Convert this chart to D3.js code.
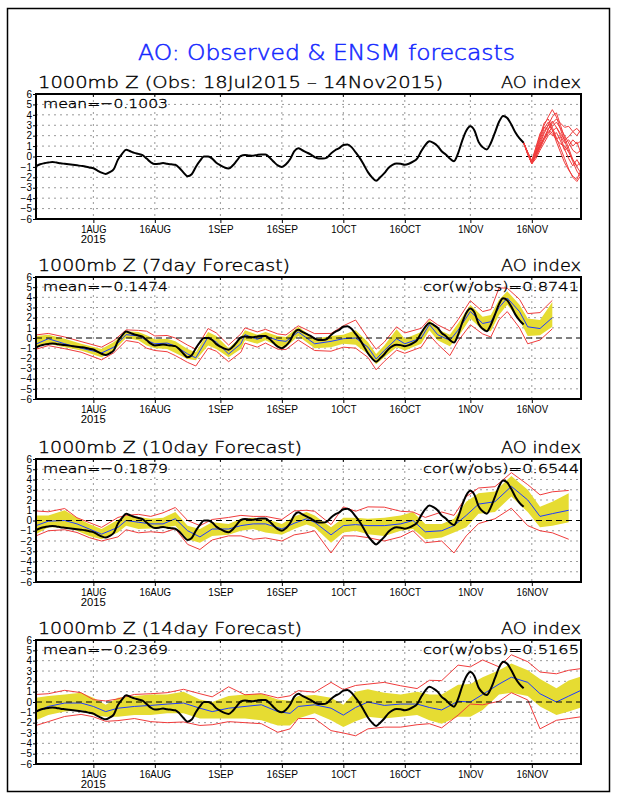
<!DOCTYPE html>
<html><head><meta charset="utf-8">
<script src="https://cdn.jsdelivr.net/npm/d3@7"></script>
<style>body{margin:0;background:#fff}
text{font-family:'Liberation Sans',Arial,sans-serif}
.lt{font-family:'DejaVu Sans','Liberation Sans',Arial,sans-serif;font-weight:200;stroke:#000;stroke-width:0.35px}
</style>
</head><body><svg id="c" width="618" height="800"></svg>
<script>
// ---------------- DATA ----------------
const startDate = "2015-07-18";
const endDate = "2015-11-28";
// observed AO, daily from 18Jul2015 to 14Nov2015
const obsValues = [
-0.93,-0.75,-0.65,-0.58,-0.53,-0.58,-0.65,-0.7,-0.75,-0.8,
-0.85,-0.9,-0.95,-1.05,-1.13,-1.35,-1.55,-1.67,-1.5,-1.2,
-0.3,0.25,0.65,0.5,0.35,0.25,0.13,-0.2,-0.55,-0.73,
-0.7,-0.63,-0.7,-0.75,-0.8,-1.1,-1.55,-1.9,-1.7,-1.0,
-0.43,0.0,0.0,-0.2,-0.6,-0.85,-1.05,-1.15,-0.87,-0.4,
0.05,0.15,0.1,0.07,0.15,0.2,0.2,-0.1,-0.5,-0.85,
-1.0,-0.75,-0.27,0.5,0.8,0.6,0.4,0.2,-0.05,-0.2,
-0.2,-0.1,0.3,0.6,0.8,1.1,1.15,0.9,0.4,-0.13,
-0.8,-1.5,-2.0,-2.33,-2.0,-1.6,-1.1,-0.8,-0.67,-0.7,
-0.8,-0.7,-0.5,-0.2,0.5,1.1,1.47,1.3,1.0,0.5,
0.2,-0.2,-0.45,0.3,1.5,2.47,2.9,2.5,1.4,0.9,
0.67,1.3,2.3,3.33,3.9,3.7,3.07,2.3,1.73,1.33];

// ensemble members (top panel), days 119..133 after start
const ensDays = [119,120,121,122,123,124,125,126,127,128,129,130,131,132,133];
const ensMembers = [
[1.33,0.3,-0.6,0.6,1.8,3.0,3.8,4.5,3.8,2.6,1.5,0.5,-0.5,-1.4,-2.0],
[1.33,0.3,-0.7,0.3,1.2,2.2,3.0,3.8,4.2,3.0,1.8,0.8,-0.3,-1.0,-1.6],
[1.33,0.4,-0.5,0.8,2.0,3.2,3.6,2.8,1.8,0.8,-0.2,-1.2,-2.0,-2.4,-1.8],
[1.33,0.3,-0.6,0.2,1.0,1.8,2.6,3.2,3.6,3.2,2.8,2.9,2.4,2.7,2.2],
[1.33,0.2,-0.7,-0.2,0.6,1.3,2.0,2.4,2.8,2.2,1.6,1.9,2.4,2.0,2.6],
[1.33,0.4,-0.4,0.9,2.2,2.8,2.6,2.2,1.6,1.2,1.0,0.4,-0.3,-0.9,-0.5],
[1.33,0.3,-0.6,0.4,1.4,2.4,3.0,2.6,1.4,0.4,-0.6,-1.3,-1.9,-2.2,-1.3],
[1.33,0.3,-0.7,0.0,0.8,1.6,2.2,2.9,3.3,2.7,2.0,1.3,0.6,0.3,0.6],
[1.33,0.2,-0.6,0.2,1.1,1.8,2.6,3.4,2.8,2.0,1.3,1.6,1.0,1.4,0.3],
[1.33,0.4,-0.5,0.5,1.6,2.7,3.3,2.5,1.7,1.9,0.7,-0.2,-0.9,-0.3,-1.0],
[1.33,0.3,-0.6,0.1,0.9,1.7,2.4,2.0,2.3,1.5,0.6,1.0,1.6,1.2,1.5]];

// 7-day forecast
const f7Days   = [0,3,7,11,16,19,22,25,27,29,32,34,37,39,42,44,47,50,51,54,56,59,61,64,68,72,75,78,81,83,85,88,90,94,96,98,101,103,106,109,111,113,115,118,120,123,126];
const f7Mean   = [-0.6,-0.07,-0.57,-1.0,-1.47,-0.9,0.33,0.2,-0.23,-0.57,-0.5,-0.8,-1.57,-1.95,0.1,-0.4,-1.57,-0.57,0.33,-0.13,0.2,-0.23,-0.33,0.6,-0.57,-0.33,-0.07,0.0,-0.9,-2.07,-1.23,-0.07,-0.57,0.0,1.33,0.33,-0.23,0.77,2.6,1.43,1.6,3.0,3.93,2.6,1.1,0.93,2.0];
const f7BandHi = [0.2,0.33,-0.07,-0.57,-1.07,-0.4,0.67,0.6,0.27,-0.13,-0.07,-0.33,-1.07,-1.4,0.6,0.2,-1.0,0.1,0.77,0.33,0.6,0.2,0.1,1.1,-0.07,0.2,0.33,0.77,-0.4,-1.57,-0.73,0.87,-0.07,0.6,1.77,0.87,0.33,1.43,3.27,2.1,2.27,3.77,4.6,3.27,1.93,1.77,3.53];
const f7BandLo = [-0.9,-0.57,-0.9,-1.23,-1.9,-1.23,0.0,-0.23,-0.73,-1.0,-1.07,-1.47,-2.07,-2.2,-0.73,-1.07,-1.9,-1.07,-0.23,-0.57,-0.23,-0.8,-0.9,0.2,-1.0,-0.9,-0.57,-0.67,-1.57,-2.57,-1.9,-0.9,-1.23,-0.57,0.77,-0.23,-0.8,0.1,1.93,0.77,0.67,2.27,3.27,1.77,0.2,0.27,1.1];
const f7RedHi  = [0.3,0.45,0.1,-0.35,-0.9,-0.25,0.8,0.75,0.67,0.2,0.25,0.0,-0.7,-1.1,0.93,0.5,-0.7,0.4,1.0,0.6,0.85,0.4,0.3,1.2,0.43,0.45,1.2,1.77,0.0,-1.1,-0.4,1.1,0.5,0.95,1.87,1.3,0.7,1.8,3.67,2.6,2.8,4.93,4.9,3.8,2.4,2.5,3.7];
const f7RedLo  = [-1.1,-0.75,-1.05,-1.4,-2.15,-1.45,-0.25,-0.45,-1.0,-1.23,-1.35,-1.73,-2.4,-2.75,-1.0,-1.3,-2.33,-1.4,-0.5,-0.9,-0.5,-1.1,-1.13,-0.2,-1.23,-1.3,-0.9,-1.0,-1.9,-3.13,-2.3,-1.2,-1.5,-0.9,0.3,-0.6,-1.73,-0.3,1.3,0.4,0.1,1.8,2.6,1.0,-0.57,-0.2,0.9];

// 10-day forecast
const f10Days   = [0,3,7,10,13,16,20,22,25,28,31,34,37,40,43,47,50,53,56,60,63,66,68,72,75,78,81,85,89,92,95,99,102,105,108,112,116,120,123,126,130];
const f10Mean   = [-0.5,-0.07,0.0,-0.33,-0.83,-1.33,-0.67,0.0,-0.17,-0.33,-0.33,0.17,-1.0,-1.6,-0.83,-0.83,-0.5,-0.33,-0.33,-0.83,-0.27,0.17,-0.17,-1.4,-0.5,-0.4,-0.5,-0.5,-0.33,0.0,-1.1,-1.0,-0.5,0.5,1.6,1.83,3.33,2.0,0.4,0.67,1.0];
const f10BandHi = [0.5,0.5,1.0,0.27,-0.33,-0.83,0.07,0.5,0.33,0.17,0.27,0.83,-0.5,-0.83,-0.17,-0.33,0.17,0.27,0.17,-0.33,0.4,0.83,0.5,-0.67,0.27,0.27,0.17,0.27,0.5,0.83,-0.33,-0.33,0.17,1.83,2.67,2.83,4.33,3.0,1.33,1.83,2.67];
const f10BandLo = [-1.33,-0.67,-0.67,-1.0,-1.5,-1.83,-1.17,-0.5,-0.83,-0.77,-0.73,-0.5,-1.83,-2.17,-1.5,-1.4,-1.0,-0.83,-1.17,-1.4,-0.83,-0.4,-0.67,-2.17,-1.17,-1.0,-1.33,-1.5,-1.0,-0.83,-1.83,-1.67,-1.17,-0.67,0.67,0.83,2.33,0.83,-0.67,-0.5,-0.17];
const f10RedHi  = [0.93,0.85,1.17,0.27,-0.2,-0.67,0.3,0.5,0.6,0.4,0.75,1.27,0.0,-0.5,0.1,0.3,0.5,0.4,0.4,0.1,0.93,1.0,0.9,-0.4,1.33,0.9,1.33,1.3,0.9,0.83,0.3,0.83,0.5,2.33,3.17,3.3,4.67,3.5,2.5,2.8,2.93];
const f10RedLo  = [-1.5,-1.0,-0.9,-1.17,-1.67,-2.0,-1.6,-0.9,-1.2,-1.1,-1.2,-0.8,-2.33,-2.83,-1.9,-1.5,-1.5,-1.83,-1.7,-2.0,-1.4,-1.2,-1.0,-3.17,-1.5,-1.5,-1.67,-2.0,-1.6,-1.0,-2.17,-2.0,-3.17,-1.5,-0.3,0.17,1.2,-0.5,-1.0,-1.2,-1.83];

// 14-day forecast
const f14Days   = [0,3,7,11,14,17,20,24,28,32,36,40,43,47,51,55,59,62,64,68,72,75,78,81,85,89,93,96,99,103,106,109,113,116,120,123,127,130,133];
const f14Mean   = [-0.93,-0.43,-0.1,-0.1,-0.43,-0.93,-0.6,-0.43,-0.33,-0.2,-0.1,-0.6,-0.93,-0.6,-0.43,-0.27,-0.93,-1.1,-0.43,-0.27,-0.6,-1.27,-0.53,0.0,-0.33,-0.2,-0.2,-0.53,-0.77,0.07,0.0,0.73,1.73,2.4,1.9,0.8,0.0,0.57,1.13];
const f14BandHi = [0.4,0.57,0.73,0.9,0.4,-0.27,0.4,0.57,0.73,0.73,1.0,0.23,0.0,0.57,0.73,0.8,0.23,0.13,0.57,0.67,0.4,-0.27,1.0,1.23,0.9,0.73,1.0,0.73,0.73,1.67,1.73,2.4,3.07,3.73,3.07,2.23,1.33,2.07,2.47];
const f14BandLo = [-1.77,-1.27,-0.93,-0.77,-1.27,-1.43,-1.43,-1.27,-1.27,-1.1,-1.1,-1.6,-1.6,-1.6,-1.6,-1.77,-2.27,-2.27,-1.6,-1.1,-1.77,-2.43,-1.87,-1.43,-1.6,-1.43,-1.27,-1.77,-2.1,-1.43,-1.43,-0.77,0.73,0.9,0.57,-0.43,-1.27,-0.93,-0.53];
const f14RedHi  = [0.73,0.8,1.13,0.9,0.23,0.1,0.3,0.73,0.8,0.9,1.23,0.8,0.5,1.47,0.7,0.8,0.4,0.6,1.1,0.95,1.9,1.2,1.6,1.73,1.9,1.57,1.3,2.1,2.07,3.57,3.4,4.07,3.4,4.57,3.9,2.9,2.73,3.07,3.23];
const f14RedLo  = [-2.27,-1.9,-1.4,-1.2,-1.43,-1.87,-1.8,-1.6,-1.9,-2.0,-1.93,-2.27,-2.2,-1.9,-2.0,-2.1,-2.93,-2.6,-1.6,-1.6,-2.77,-3.0,-3.27,-2.6,-2.43,-2.43,-2.2,-2.1,-2.5,-1.27,-0.2,-0.27,0.07,0.9,0.2,-2.6,-1.77,-1.6,-1.43];

const mainTitle = "AO: Observed & ENSM forecasts";
const panelTitles = ["1000mb Z (Obs: 18Jul2015 \u2013 14Nov2015)","1000mb Z (7day Forecast)","1000mb Z (10day Forecast)","1000mb Z (14day Forecast)"];
const meanLabels = ["mean=\u22120.1003","mean=\u22120.1474","mean=\u22120.1879","mean=\u22120.2369"];
const corLabels = [null,"cor(w/obs)=0.8741","cor(w/obs)=0.6544","cor(w/obs)=0.5165"];
const indexLabel = "AO index";
const tickDates = ["2015-08-01","2015-08-16","2015-09-01","2015-09-16","2015-10-01","2015-10-16","2015-11-01","2015-11-16"];
const tickLabels = ["1AUG","16AUG","1SEP","16SEP","1OCT","16OCT","1NOV","16NOV"];
const yearLabel = "2015";
const yTicks = [-6,-5,-4,-3,-2,-1,0,1,2,3,4,5,6];

// ---------------- LAYOUT ----------------
const svg = d3.select("#c");
const X0 = 36, X1 = 581;
const panels = [{t:94,b:219},{t:277,b:399},{t:459,b:582},{t:640,b:764}];
const titleLens = [405,252,264,264];
const fc = [null,
  {d:f7Days,m:f7Mean,bh:f7BandHi,bl:f7BandLo,rh:f7RedHi,rl:f7RedLo},
  {d:f10Days,m:f10Mean,bh:f10BandHi,bl:f10BandLo,rh:f10RedHi,rl:f10RedLo},
  {d:f14Days,m:f14Mean,bh:f14BandHi,bl:f14BandLo,rh:f14RedHi,rl:f14RedLo}];

const parse = d3.utcParse("%Y-%m-%d");
const t0 = parse(startDate);
const dayDate = n => d3.utcDay.offset(t0, n);
const x = d3.scaleUtc().domain([t0, parse(endDate)]).range([X0, X1]);

const YELLOW = "#e6dc32", RED = "#f03c3c", BLUE = "#1e3cff";
const FONT = "'Liberation Sans',Arial,sans-serif";

svg.append("rect").attr("x",7.5).attr("y",8.5).attr("width",602).attr("height",783)
  .attr("fill","none").attr("stroke","#000").attr("stroke-width",1.5);

svg.append("text").attr("class","lt").attr("x",138).attr("y",60).attr("fill","#1428ff")
  .style("stroke","#1428ff").style("stroke-width","0.5px")
  .attr("font-size",21).attr("textLength",377).attr("lengthAdjust","spacingAndGlyphs")
  .text(mainTitle);

panels.forEach((p, i) => {
  const y = d3.scaleLinear().domain([-6, 6]).range([p.b, p.t]);
  const g = svg.append("g");

  // grid
  g.selectAll(".hg").data(yTicks.filter(v => v > -6 && v < 6 && v !== 0)).join("line")
    .attr("x1",X0).attr("x2",X1).attr("y1",d=>y(d)).attr("y2",d=>y(d))
    .attr("stroke","#999").attr("stroke-width",1).attr("stroke-dasharray","2,4");
  g.selectAll(".vg").data(tickDates).join("line")
    .attr("x1",d=>x(parse(d))).attr("x2",d=>x(parse(d))).attr("y1",p.t).attr("y2",p.b)
    .attr("stroke","#999").attr("stroke-width",1).attr("stroke-dasharray","2,4");

  const obsLine = d3.line().x((d,k)=>x(dayDate(k))).y(d=>y(d));

  if (fc[i]) {
    const f = fc[i];
    const idx = f.d.map((_,k)=>k);
    g.append("path").datum(idx)
      .attr("d", d3.area().x(k=>x(dayDate(f.d[k]))).y0(k=>y(f.bl[k])).y1(k=>y(f.bh[k])))
      .attr("fill",YELLOW);
    [f.rh, f.rl].forEach(arr => {
      g.append("path").datum(idx)
        .attr("d", d3.line().x(k=>x(dayDate(f.d[k]))).y(k=>y(arr[k])))
        .attr("fill","none").attr("stroke",RED).attr("stroke-width",1);
    });
    g.append("path").datum(idx)
      .attr("d", d3.line().x(k=>x(dayDate(f.d[k]))).y(k=>y(f.m[k])))
      .attr("fill","none").attr("stroke",BLUE).attr("stroke-width",1);
  }

  // zero line
  g.append("line").attr("x1",X0).attr("x2",X1).attr("y1",y(0)).attr("y2",y(0))
    .attr("stroke","#000").attr("stroke-width",1).attr("stroke-dasharray","6,4");

  if (i === 0) {
    ensMembers.forEach(mem => {
      g.append("path").datum(mem)
        .attr("d", d3.line().x((d,k)=>x(dayDate(ensDays[k]))).y(d=>y(d)))
        .attr("fill","none").attr("stroke",RED).attr("stroke-width",1);
    });
  }

  g.append("path").datum(obsValues).attr("d", obsLine.curve(d3.curveMonotoneX))
    .attr("fill","none").attr("stroke","#000").attr("stroke-width",2).attr("stroke-linejoin","round");

  // border
  g.append("rect").attr("x",X0).attr("y",p.t).attr("width",X1-X0).attr("height",p.b-p.t)
    .attr("fill","none").attr("stroke","#000").attr("stroke-width",2);

  // axes
  const ya = g.append("g").attr("transform",`translate(${X0},0)`)
    .call(d3.axisLeft(y).tickValues(yTicks).tickSize(3).tickPadding(1)
      .tickFormat(d => d < 0 ? "\u2212" + (-d) : String(d)));
  ya.select(".domain").remove();
  ya.selectAll("text").attr("font-size",10).attr("font-family",FONT);

  const xa = g.append("g").attr("transform",`translate(0,${p.b})`)
    .call(d3.axisBottom(x).tickValues(tickDates.map(parse)).tickSize(4).tickPadding(3)
      .tickFormat((d,k) => tickLabels[k]));
  xa.select(".domain").remove();
  xa.selectAll("text").attr("font-size",10).attr("font-family",FONT)
    .attr("textLength",function(){ return this.textContent.length*6.3; }).attr("lengthAdjust","spacingAndGlyphs");
  g.append("text").attr("x",x(parse(tickDates[0]))).attr("y",p.b+24).attr("text-anchor","middle")
    .attr("font-size",10).attr("textLength",25).attr("lengthAdjust","spacingAndGlyphs").text(yearLabel);

  // top ticks
  g.selectAll(".tt").data(tickDates).join("line")
    .attr("x1",d=>x(parse(d))).attr("x2",d=>x(parse(d))).attr("y1",p.t).attr("y2",p.t+3)
    .attr("stroke","#000");

  // texts
  g.append("text").attr("class","lt").attr("x",38).attr("y",p.t-6).attr("font-size",15)
    .attr("textLength",titleLens[i]).attr("lengthAdjust","spacingAndGlyphs").text(panelTitles[i]);
  g.append("text").attr("class","lt").attr("x",501).attr("y",p.t-6).attr("font-size",15)
    .attr("textLength",80).attr("lengthAdjust","spacingAndGlyphs").text(indexLabel);
  g.append("text").attr("class","lt").attr("x",43).attr("y",p.t+14).attr("font-size",13)
    .attr("textLength",125).attr("lengthAdjust","spacingAndGlyphs").text(meanLabels[i]);
  if (corLabels[i]) {
    g.append("text").attr("class","lt").attr("x",423).attr("y",p.t+14).attr("font-size",13)
      .attr("textLength",156).attr("lengthAdjust","spacingAndGlyphs").text(corLabels[i]);
  }
});
</script></body></html>
